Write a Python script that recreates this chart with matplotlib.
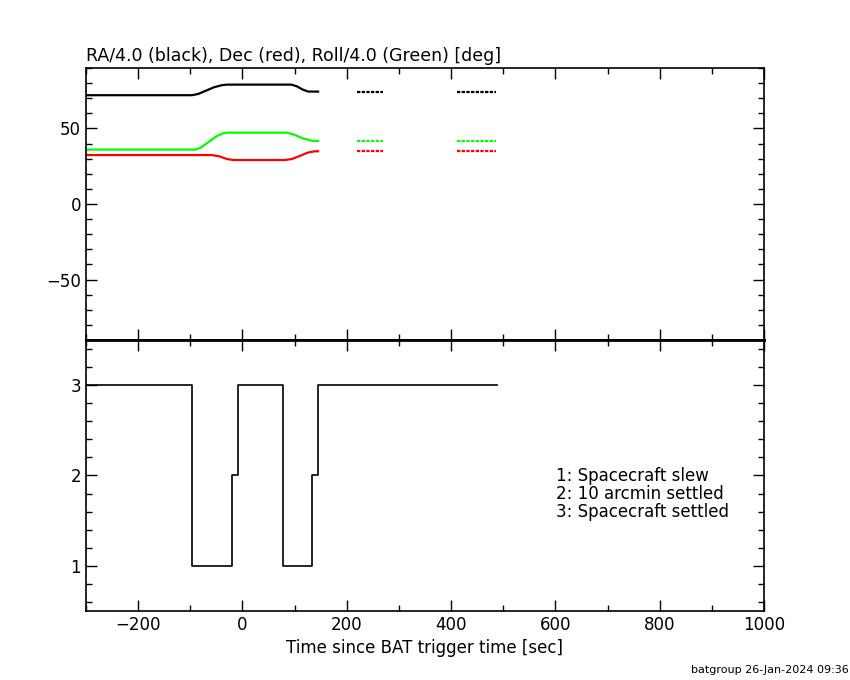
import matplotlib
matplotlib.use("Agg")
import matplotlib.pyplot as plt
from matplotlib.ticker import MultipleLocator

# --- data ---
ra_t = [-300, -97, -85, -70, -55, -40, -30, 94, 105, 115, 126, 145]
ra_v = [72, 72, 72.8, 75, 77.2, 78.6, 79, 79, 77.8, 75.8, 74.4, 74.4]
ra_seg2_t = [219, 270]
ra_seg2_v = [74.4, 74.4]
ra_seg3_t = [411, 487]
ra_seg3_v = [74.4, 74.4]

dec_t = [-300, -59, -45, -30, -18, 81, 95, 110, 125, 139, 145]
dec_v = [32.4, 32.4, 31.6, 29.8, 29.1, 29.1, 29.8, 31.8, 34.0, 34.9, 34.9]
dec_seg2_t = [219, 270]
dec_seg2_v = [34.9, 34.9]
dec_seg3_t = [411, 487]
dec_seg3_v = [34.9, 34.9]

roll_t = [-300, -91, -80, -65, -50, -38, -30, 85, 100, 115, 135, 145]
roll_v = [36, 36, 37.3, 41, 44.8, 46.7, 47.2, 47.2, 45.8, 43.5, 41.7, 41.7]
roll_seg2_t = [219, 270]
roll_seg2_v = [41.8, 41.8]
roll_seg3_t = [411, 487]
roll_seg3_v = [41.8, 41.8]

# settle status steps: value holds from t[i] to t[i+1]
st_t = [-300, -96, -19.5, -8, 78, 134, 145, 489]
st_v = [3, 1, 2, 3, 1, 2, 3, 3]

legend_lines = ["1: Spacecraft slew", "2: 10 arcmin settled", "3: Spacecraft settled"]
title = "RA/4.0 (black), Dec (red), Roll/4.0 (Green) [deg]"
xlabel = "Time since BAT trigger time [sec]"
footer = "batgroup 26-Jan-2024 09:36"

plt.rcParams['font.family'] = ['DejaVu Sans']
fig = plt.figure(figsize=(8.5, 6.8), dpi=100)
ax1 = fig.add_axes([0.1012, 0.5, 0.7976, 0.4])
ax2 = fig.add_axes([0.1012, 0.1015, 0.7976, 0.3985], sharex=ax1)

green = '#00ff00'
red = '#ff0000'
lw = 1.6
dots = (0, (1.5, 0.6))
ax1.plot(ra_t, ra_v, color='black', lw=lw)
ax1.plot(ra_seg2_t, ra_seg2_v, color='black', lw=lw, ls=dots)
ax1.plot(ra_seg3_t, ra_seg3_v, color='black', lw=lw, ls=dots)
ax1.plot(roll_t, roll_v, color=green, lw=lw)
ax1.plot(roll_seg2_t, roll_seg2_v, color=green, lw=lw, ls=dots)
ax1.plot(roll_seg3_t, roll_seg3_v, color=green, lw=lw, ls=dots)
ax1.plot(dec_t, dec_v, color=red, lw=lw)
ax1.plot(dec_seg2_t, dec_seg2_v, color=red, lw=lw, ls=dots)
ax1.plot(dec_seg3_t, dec_seg3_v, color=red, lw=lw, ls=dots)

ax1.set_xlim(-300, 1000)
ax1.set_ylim(-90, 90)
ax1.yaxis.set_major_locator(MultipleLocator(50))
ax1.yaxis.set_minor_locator(MultipleLocator(10))

ax2.step(st_t, st_v, where='post', color='black', lw=1.2)
ax2.set_ylim(0.5, 3.5)
ax2.yaxis.set_major_locator(MultipleLocator(1))
ax2.yaxis.set_minor_locator(MultipleLocator(0.2))
ax2.xaxis.set_major_locator(MultipleLocator(200))
ax2.xaxis.set_minor_locator(MultipleLocator(100))

for ax in (ax1, ax2):
    for s in ax.spines.values():
        s.set_linewidth(1.2)
    ax.tick_params(which='both', direction='in', top=True, right=True,
                   labelsize=12, width=1.0)
    ax.tick_params(which='major', length=8)
    ax.tick_params(which='minor', length=4.5)
ax1.tick_params(labelbottom=False)
ax1.spines['bottom'].set_linewidth(2)
ax2.spines['top'].set_linewidth(2)

ax2.set_xlabel(xlabel, fontsize=12, labelpad=4)
fig.text(0.1012, 0.904, title, fontsize=12.5, ha='left', va='bottom')
for i, line in enumerate(legend_lines):
    ax2.text(0.693, 0.498 - i * 0.067, line, transform=ax2.transAxes,
             fontsize=12, ha='left', va='center')
fig.text(0.998, 0.008, footer, fontsize=8, ha='right', va='bottom')

fig.savefig("out.png", dpi=100)
